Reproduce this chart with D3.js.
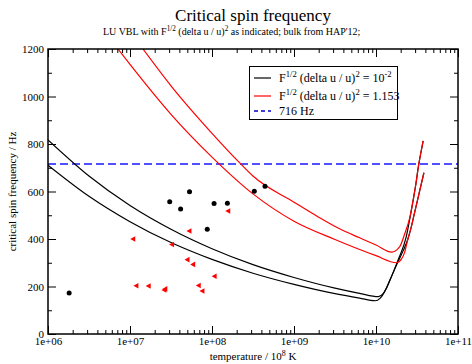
<!DOCTYPE html>
<html>
<head>
    <meta charset="utf-8">
    <title>Critical spin frequency</title>
    <script src="https://cdn.jsdelivr.net/npm/d3@7"></script>
    <style>
        body { margin: 0; background: #fff; }
        text { font-family: "Liberation Serif", "DejaVu Serif", serif; fill: #000; }
    </style>
</head>
<body>
<script>
    // curves: [temperature, frequency]
    var blackLow = [[1e6, 711], [3.16e6, 580], [1e7, 473], [3.16e7, 385], [1e8, 314], [3.16e8, 256],
        [1e9, 209], [3.16e9, 170], [6.3e9, 151], [9.8e9, 140], [1.12e10, 150], [1.35e10, 195],
        [1.58e10, 250], [1.86e10, 305], [2.14e10, 350], [2.45e10, 400], [2.69e10, 450],
        [2.95e10, 510], [3.21e10, 564], [3.51e10, 622], [3.84e10, 679]];
    var blackHigh = [[1e6, 817], [3.16e6, 665], [1e7, 541], [3.16e7, 441], [1e8, 359], [3.16e8, 292],
        [1e9, 238], [3.16e9, 193], [6.3e9, 171], [1.07e10, 157], [1.23e10, 171], [1.48e10, 227],
        [1.86e10, 312], [2.34e10, 410], [2.6e10, 490], [2.84e10, 564], [3.09e10, 640],
        [3.27e10, 700], [3.51e10, 760], [3.76e10, 813]];
    var redLow = [[7.13e6, 1200], [1e7, 1135], [3.16e7, 925], [1e8, 745], [3.16e8, 590],
        [1e9, 475], [3.16e9, 398], [1e10, 330], [1.78e10, 300], [2.04e10, 315], [2.24e10, 345],
        [2.45e10, 400], [2.69e10, 450], [2.95e10, 510], [3.21e10, 564], [3.51e10, 622], [3.84e10, 679]];
    var redHigh = [[1.44e7, 1200], [3.16e7, 1045], [1e8, 845], [2.24e8, 716], [3.16e8, 665], [1e9, 555],
        [2e9, 492], [3.5e9, 445], [6.3e9, 405], [1e10, 375], [1.55e10, 345], [1.95e10, 368],
        [2.25e10, 424], [2.6e10, 494], [2.84e10, 564], [3.09e10, 640], [3.27e10, 700],
        [3.51e10, 760], [3.76e10, 813]];
    var limitHz = 716;

    // observed sources
    var dotT = [1.81e6, 3.05e7, 4.14e7, 5.32e7, 8.75e7, 1.06e8, 1.54e8, 3.28e8, 4.43e8];
    var dotF = [173, 557, 526, 599, 441, 550, 551, 601, 622];
    var triT = [1.09e7, 1.19e7, 1.68e7, 2.61e7, 2.68e7, 3.24e7, 5.0e7, 5.28e7, 5.86e7, 6.86e7, 7.6e7, 1.07e8, 1.57e8];
    var triF = [400, 203, 202, 185, 190, 377, 313, 434, 293, 204, 181, 243, 518];

    var xMajor = [1e6, 1e7, 1e8, 1e9, 1e10, 1e11];
    var yMajor = [0, 200, 400, 600, 800, 1000, 1200];
    var yMinor = [100, 300, 500, 700, 900, 1100];

    var W = 472, H = 364;
    var pL = 48, pR = 458, pT = 49, pB = 334;

    var svg = d3.select("body").append("svg")
            .attr("width", W)
            .attr("height", H);

    var x = d3.scaleLog().domain([1e6, 1e11]).range([pL, pR]);
    var y = d3.scaleLinear().domain([0, 1200]).range([pB, pT]);

    var xMinor = [];
    xMajor.slice(0, -1).forEach(function(d) {
        for (var k = 2; k < 10; k++) xMinor.push(d * k);
    });

    function expLabel(d) {
        var e = Math.round(Math.log10(d));
        return "1e+" + (e < 10 ? "0" + e : e);
    }

    svg.append("clipPath").attr("id", "plotClip")
        .append("rect")
        .attr("x", pL).attr("y", pT)
        .attr("width", pR - pL).attr("height", pB - pT);

    // axes, ticks pointing inward
    function addAxis(axis, tx, ty) {
        var g = svg.append("g")
                .attr("transform", "translate(" + tx + "," + ty + ")")
                .call(axis);
        g.select(".domain").remove();
        g.selectAll("line").attr("stroke", "#000").attr("stroke-width", 1);
        g.selectAll("text").style("font-family", "Liberation Serif").style("font-size", "11px").attr("fill", "#000");
        return g;
    }
    addAxis(d3.axisBottom(x).tickValues(xMajor).tickSize(-8).tickPadding(3).tickFormat(expLabel), 0, pB);
    addAxis(d3.axisBottom(x).tickValues(xMinor).tickSize(-4).tickFormat(""), 0, pB);
    addAxis(d3.axisTop(x).tickValues(xMajor).tickSize(-8).tickFormat(""), 0, pT);
    addAxis(d3.axisTop(x).tickValues(xMinor).tickSize(-4).tickFormat(""), 0, pT);
    addAxis(d3.axisLeft(y).tickValues(yMajor).tickSize(-8).tickPadding(4).tickFormat(d3.format("d")), pL, 0);
    addAxis(d3.axisLeft(y).tickValues(yMinor).tickSize(-4).tickFormat(""), pL, 0);
    addAxis(d3.axisRight(y).tickValues(yMajor).tickSize(-8).tickFormat(""), pR, 0);
    addAxis(d3.axisRight(y).tickValues(yMinor).tickSize(-4).tickFormat(""), pR, 0);

    var plot = svg.append("g").attr("clip-path", "url(#plotClip)");

    var line = d3.line()
            .x(function(d) { return x(d[0]); })
            .y(function(d) { return y(d[1]); })
            .curve(d3.curveMonotoneX);

    // 716 Hz limit
    plot.append("line")
        .attr("x1", pL).attr("x2", pR)
        .attr("y1", y(limitHz)).attr("y2", y(limitHz))
        .attr("stroke", "#5050ff")
        .attr("stroke-width", 2)
        .attr("stroke-dasharray", "8,4");

    [[blackLow, "#000"], [blackHigh, "#000"], [redLow, "#ff0000"], [redHigh, "#ff0000"]].forEach(function(s) {
        plot.append("path")
            .datum(s[0])
            .attr("d", line)
            .attr("fill", "none")
            .attr("stroke", s[1])
            .attr("stroke-width", 1.2);
    });

    plot.selectAll("circle.src")
        .data(dotT)
        .enter()
        .append("circle")
        .attr("class", "src")
        .attr("cx", function(d) { return x(d); })
        .attr("cy", function(d, i) { return y(dotF[i]); })
        .attr("r", 2.5)
        .attr("fill", "#000");

    plot.selectAll("path.tri")
        .data(triT)
        .enter()
        .append("path")
        .attr("class", "tri")
        .attr("transform", function(d, i) { return "translate(" + x(d) + "," + y(triF[i]) + ")"; })
        .attr("d", "M-2.8,0L2.2,-2.8L2.2,2.8Z")
        .attr("fill", "#ff0000");

    // frame
    svg.append("rect")
        .attr("x", pL).attr("y", pT)
        .attr("width", pR - pL).attr("height", pB - pT)
        .attr("fill", "none")
        .attr("stroke", "#000")
        .attr("stroke-width", 1.5);

    // text with superscripts: parts alternate normal / superscript
    function richText(sel, parts, size) {
        parts.forEach(function(p, i) {
            var sup = i % 2 === 1;
            if (p === "") return;
            sel.append("tspan")
                .attr("dy", sup ? -size * 0.4 : (i > 0 ? size * 0.4 : 0))
                .style("font-size", (sup ? size * 0.72 : size) + "px")
                .text(p);
        });
        return sel;
    }

    svg.append("text")
        .attr("x", 253).attr("y", 21)
        .attr("text-anchor", "middle")
        .style("font-size", "17px")
        .text("Critical spin frequency");

    richText(svg.append("text").attr("x", 103).attr("y", 35),
        ["LU VBL with F", "1/2", " (delta u / u)", "2", " as indicated; bulk from HAP'12;"], 10);

    richText(svg.append("text").attr("x", 253).attr("y", 360).attr("text-anchor", "middle"),
        ["temperature / 10", "8", " K"], 11);

    svg.append("text")
        .attr("transform", "translate(16," + ((pT + pB) / 2) + ") rotate(-90)")
        .attr("text-anchor", "middle")
        .style("font-size", "11px")
        .text("critical spin frequency / Hz");

    // legend
    var lg = svg.append("g");
    lg.append("rect")
        .attr("x", 249.5).attr("y", 66.5)
        .attr("width", 148).attr("height", 53)
        .attr("fill", "#fff")
        .attr("stroke", "#000")
        .attr("stroke-width", 1);
    var rows = [
        {y: 78, color: "#000", dash: null, parts: ["F", "1/2", " (delta u / u)", "2", " = 10", "-2"]},
        {y: 96, color: "#ff0000", dash: null, parts: ["F", "1/2", " (delta u / u)", "2", " = 1.153"]},
        {y: 111, color: "#0000cc", dash: "4,3", parts: ["716 Hz"]}
    ];
    rows.forEach(function(r) {
        lg.append("line")
            .attr("x1", 254).attr("x2", 271)
            .attr("y1", r.y).attr("y2", r.y)
            .attr("stroke", r.color)
            .attr("stroke-width", r.dash ? 1.5 : 1.2)
            .attr("stroke-dasharray", r.dash);
        richText(lg.append("text").attr("x", 279).attr("y", r.y + 4), r.parts, 12);
    });
</script>
</body>
</html>
